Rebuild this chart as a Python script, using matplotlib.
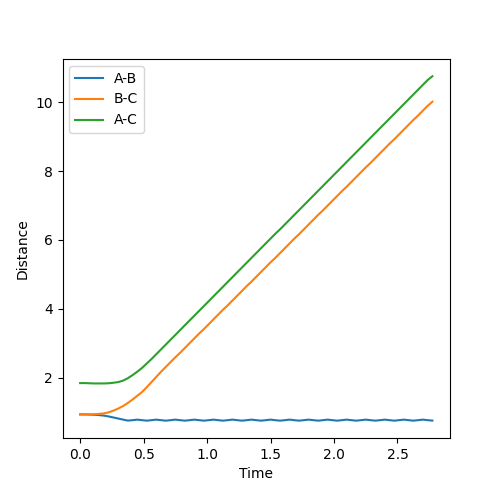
import matplotlib
matplotlib.use('Agg')
import matplotlib.pyplot as plt

time = [0, 0.0375, 0.075, 0.1125, 0.15, 0.1875, 0.225, 0.2625, 0.3, 0.3375,
        0.375, 0.4125, 0.45, 0.4875, 0.525, 0.5625, 0.6, 0.6375, 0.675, 0.7125,
        0.75, 0.7875, 0.825, 0.8625, 0.9, 0.9375, 0.975, 1.0125, 1.05, 1.0875,
        1.125, 1.1625, 1.2, 1.2375, 1.275, 1.3125, 1.35, 1.3875, 1.425, 1.4625,
        1.5, 1.5375, 1.575, 1.6125, 1.65, 1.6875, 1.725, 1.7625, 1.8, 1.8375,
        1.875, 1.9125, 1.95, 1.9875, 2.025, 2.0625, 2.1, 2.1375, 2.175, 2.2125,
        2.25, 2.2875, 2.325, 2.3625, 2.4, 2.4375, 2.475, 2.5125, 2.55, 2.5875,
        2.625, 2.6625, 2.7, 2.7375, 2.775]

dist_ab = [0.93, 0.93, 0.925, 0.92, 0.91, 0.895, 0.87, 0.84, 0.81, 0.78,
           0.75, 0.762, 0.778, 0.762, 0.748, 0.762, 0.778, 0.762, 0.748, 0.762,
           0.778, 0.762, 0.748, 0.762, 0.778, 0.762, 0.748, 0.762, 0.778, 0.762,
           0.748, 0.762, 0.778, 0.762, 0.748, 0.762, 0.778, 0.762, 0.748, 0.762,
           0.778, 0.762, 0.748, 0.762, 0.778, 0.762, 0.748, 0.762, 0.778, 0.762,
           0.748, 0.762, 0.778, 0.762, 0.748, 0.762, 0.778, 0.762, 0.748, 0.762,
           0.778, 0.762, 0.748, 0.762, 0.778, 0.762, 0.748, 0.762, 0.778, 0.762,
           0.748, 0.762, 0.778, 0.762, 0.75]

dist_bc = [0.93, 0.93, 0.93, 0.935, 0.945, 0.96, 0.99, 1.04, 1.10, 1.17,
           1.26, 1.36, 1.47, 1.58, 1.72, 1.87, 2.02, 2.17, 2.31, 2.45,
           2.59, 2.72, 2.86, 3.00, 3.14, 3.28, 3.41, 3.55, 3.69, 3.83,
           3.97, 4.10, 4.24, 4.38, 4.52, 4.66, 4.79, 4.93, 5.07, 5.21,
           5.35, 5.48, 5.62, 5.76, 5.90, 6.04, 6.17, 6.31, 6.45, 6.59,
           6.73, 6.86, 7.00, 7.14, 7.28, 7.42, 7.55, 7.69, 7.83, 7.97,
           8.11, 8.24, 8.38, 8.52, 8.66, 8.80, 8.93, 9.07, 9.21, 9.35,
           9.49, 9.62, 9.76, 9.90, 10.02]

dist_ac = [1.84, 1.84, 1.835, 1.83, 1.83, 1.83, 1.835, 1.85, 1.87, 1.91,
           1.98, 2.07, 2.17, 2.28, 2.41, 2.54, 2.68, 2.82, 2.96, 3.10,
           3.24, 3.38, 3.52, 3.66, 3.80, 3.94, 4.08, 4.22, 4.36, 4.50,
           4.64, 4.78, 4.92, 5.06, 5.20, 5.34, 5.48, 5.62, 5.76, 5.90,
           6.04, 6.18, 6.31, 6.45, 6.59, 6.73, 6.87, 7.01, 7.15, 7.29,
           7.43, 7.57, 7.71, 7.85, 7.99, 8.13, 8.27, 8.41, 8.55, 8.69,
           8.83, 8.97, 9.11, 9.25, 9.39, 9.53, 9.67, 9.81, 9.95, 10.09,
           10.23, 10.37, 10.51, 10.65, 10.76]

plt.figure(figsize=(5, 4.92), dpi=100)
plt.plot(time, dist_ab, label='A-B')
plt.plot(time, dist_bc, label='B-C')
plt.plot(time, dist_ac, label='A-C')
plt.xlabel('Time')
plt.ylabel('Distance')
plt.legend(loc='upper left')
plt.savefig('out.png', dpi=100)
